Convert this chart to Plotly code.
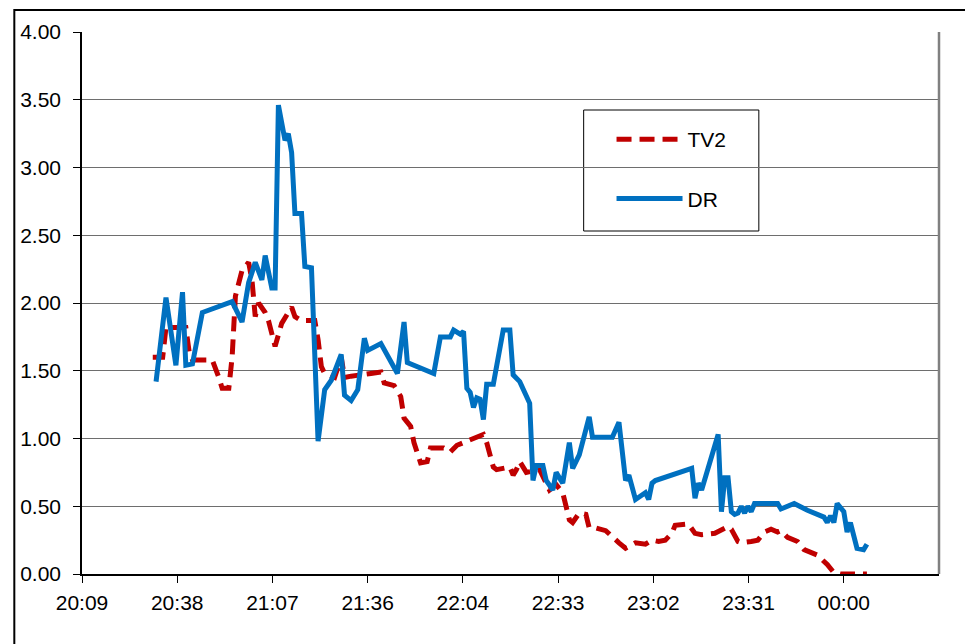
import plotly.graph_objects as go

# ---- data ----
dr_times = ["20:32","20:35","20:38","20:40","20:41","20:43","20:46","20:55","20:58","21:00",
            "21:02","21:04","21:05","21:07","21:08","21:09","21:11","21:12","21:13","21:14",
            "21:16","21:17","21:19","21:21","21:23","21:25","21:28","21:29","21:31","21:33",
            "21:35","21:36","21:40","21:45","21:47","21:48","21:56","21:58","22:01","22:02",
            "22:04","22:05","22:06","22:07","22:08","22:09","22:10","22:11","22:12","22:14",
            "22:17","22:19","22:20","22:22","22:25","22:26","22:27","22:29","22:30","22:32",
            "22:33","22:35","22:37","22:38","22:40","22:42","22:43","22:44","22:50","22:52",
            "22:54","22:55","22:57","23:00","23:01","23:02","23:03","23:14","23:15","23:16",
            "23:17","23:22","23:23","23:24","23:25","23:26","23:27","23:28","23:29","23:30",
            "23:31","23:32","23:33","23:40","23:41","23:45","23:49","23:54","23:55","23:56",
            "23:57","23:58","00:00","00:01","00:02","00:04","00:06","00:07"]
dr_values = [1.42,2.04,1.54,2.08,1.54,1.55,1.93,2.01,1.86,2.15,
             2.30,2.17,2.35,2.11,2.11,3.46,3.20,3.25,3.11,2.66,
             2.66,2.27,2.26,0.98,1.36,1.43,1.62,1.32,1.28,1.36,
             1.74,1.65,1.70,1.48,1.86,1.56,1.48,1.75,1.75,1.80,
             1.77,1.79,1.37,1.34,1.23,1.30,1.29,1.14,1.40,1.40,
             1.80,1.80,1.47,1.42,1.26,0.69,0.80,0.80,0.69,0.62,
             0.75,0.67,0.97,0.78,0.88,1.05,1.16,1.01,1.01,1.12,
             0.69,0.73,0.55,0.60,0.55,0.67,0.69,0.78,0.56,0.67,
             0.62,1.03,0.46,0.71,0.71,0.46,0.44,0.45,0.50,0.45,
             0.50,0.46,0.52,0.52,0.48,0.52,0.47,0.42,0.38,0.43,
             0.38,0.52,0.46,0.31,0.38,0.19,0.18,0.22]

tv2_times = ["20:31","20:34","20:35","20:41","20:42","20:43","20:49","20:50","20:51","20:52",
             "20:54","20:55","20:56","20:58","21:00","21:01","21:02","21:03","21:05","21:06",
             "21:07","21:08","21:10","21:13","21:14","21:16","21:20","21:21","21:22","21:23",
             "21:26","21:28","21:29","21:31","21:37","21:40","21:41","21:44","21:46","21:47",
             "21:49","21:50","21:52","21:54","21:55","21:59","22:01","22:03","22:08","22:11",
             "22:12","22:14","22:15","22:19","22:20","22:21","22:22","22:24","22:28","22:30",
             "22:31","22:33","22:35","22:37","22:38","22:40","22:42","22:43","22:45","22:48",
             "22:50","22:52","22:54","22:57","23:00","23:02","23:04","23:06","23:08","23:09",
             "23:13","23:15","23:17","23:21","23:25","23:26","23:28","23:29","23:32","23:34",
             "23:36","23:38","23:40","23:41","23:43","23:46","23:48","23:52","23:55","23:57",
             "23:59","00:07"]
tv2_values = [1.60,1.60,1.82,1.82,1.64,1.58,1.58,1.52,1.45,1.37,
              1.37,1.60,2.05,2.24,2.30,2.17,1.90,2.00,1.93,1.87,
              1.78,1.68,1.85,1.97,1.90,1.87,1.87,1.73,1.53,1.48,
              1.45,1.60,1.45,1.46,1.48,1.49,1.41,1.39,1.31,1.15,
              1.09,0.97,0.82,0.83,0.93,0.93,0.90,0.95,1.00,1.03,
              0.97,0.79,0.77,0.79,0.73,0.77,0.83,0.75,0.77,0.67,
              0.62,0.66,0.60,0.40,0.38,0.45,0.44,0.34,0.34,0.32,
              0.27,0.23,0.19,0.23,0.22,0.25,0.24,0.25,0.30,0.36,
              0.37,0.30,0.29,0.30,0.35,0.33,0.24,0.23,0.24,0.25,
              0.31,0.33,0.31,0.32,0.27,0.24,0.18,0.14,0.07,0.01,
              0.00,0.00]

tick_labels = ["20:09","20:38","21:07","21:36","22:04","22:33","23:02","23:31","00:00"]
series_names = ["TV2", "DR"]


def to_minutes(s):
    h, m = map(int, s.split(":"))
    t = h * 60 + m
    if h < 12:
        t += 1440
    return t

# Excel-style date axis: 0.84 .. 1.02 day, major unit 0.02 day (28.8 min)
x_min = 0.84 * 1440
x_max = 1.02 * 1440
tick_vals = [x_min + 28.8 * i for i in range(len(tick_labels))]

FONT = "Liberation Sans, Arial, sans-serif"

fig = go.Figure()
fig.add_trace(go.Scatter(
    x=[to_minutes(t) for t in tv2_times], y=tv2_values, name=series_names[0],
    mode="lines", line=dict(color="#C00000", width=5, dash="15px,8px"),
    legendgroup="a"))
fig.add_trace(go.Scatter(
    x=[to_minutes(t) for t in dr_times], y=dr_values, name=series_names[1],
    mode="lines", line=dict(color="#0070C0", width=5),
    legendgroup="b"))

# page offset: the browser body has an 8px margin
OFF = 8
W, H = 973 - OFF, 644 - OFF
L, R, T, B = 78 - OFF, 939 - OFF, 32 - OFF, 574 - OFF


def px(xp):
    return (xp - OFF - L) / (R - L)


def py(yp):
    return (B - (yp - OFF)) / (B - T)


fig.update_layout(
    width=W, height=H,
    margin=dict(l=L, r=W - R, t=T, b=H - B, pad=0),
    paper_bgcolor="white", plot_bgcolor="white",
    font=dict(family=FONT, size=21, color="black"),
    showlegend=True,
    legend=dict(
        x=px(610), y=py(119), xanchor="left", yanchor="top",
        bgcolor="rgba(0,0,0,0)", borderwidth=0,
        font=dict(family=FONT, size=21, color="black"),
        traceorder="grouped", tracegroupgap=29, itemwidth=66,
    ),
    xaxis=dict(
        range=[x_min, x_max], tickmode="array", tickvals=tick_vals, ticktext=tick_labels,
        showgrid=False, zeroline=False, showline=True, linecolor="black", linewidth=1.5,
        ticks="outside", ticklen=7, tickcolor="black", tickwidth=1,
        tickfont=dict(family=FONT, size=21, color="black"),
        ticklabelstandoff=2,
    ),
    yaxis=dict(
        range=[0, 4], dtick=0.5, tick0=0, tickformat=".2f",
        showgrid=True, gridcolor="#6e6e6e", gridwidth=1.3,
        zeroline=False, showline=True, linecolor="black", linewidth=1.5,
        ticks="outside", ticklen=7, tickcolor="black", tickwidth=1,
        tickfont=dict(family=FONT, size=21, color="black"),
        ticklabelstandoff=8,
    ),
    shapes=[
        # plot-area border (right side, gray)
        dict(type="line", xref="paper", yref="paper", x0=1, x1=1, y0=0, y1=1,
             line=dict(color="#808080", width=2.5)),
        # legend box
        dict(type="rect", xref="paper", yref="paper",
             x0=px(582), x1=px(758), y0=py(231), y1=py(110),
             line=dict(color="black", width=1), fillcolor="white", layer="below"),
        # outer chart frame (partly outside the window)
        dict(type="rect", xref="paper", yref="paper",
             x0=px(10), x1=px(1100), y0=py(800), y1=py(10),
             line=dict(color="black", width=2), layer="below"),
    ],
)

fig.write_html("out.html")
